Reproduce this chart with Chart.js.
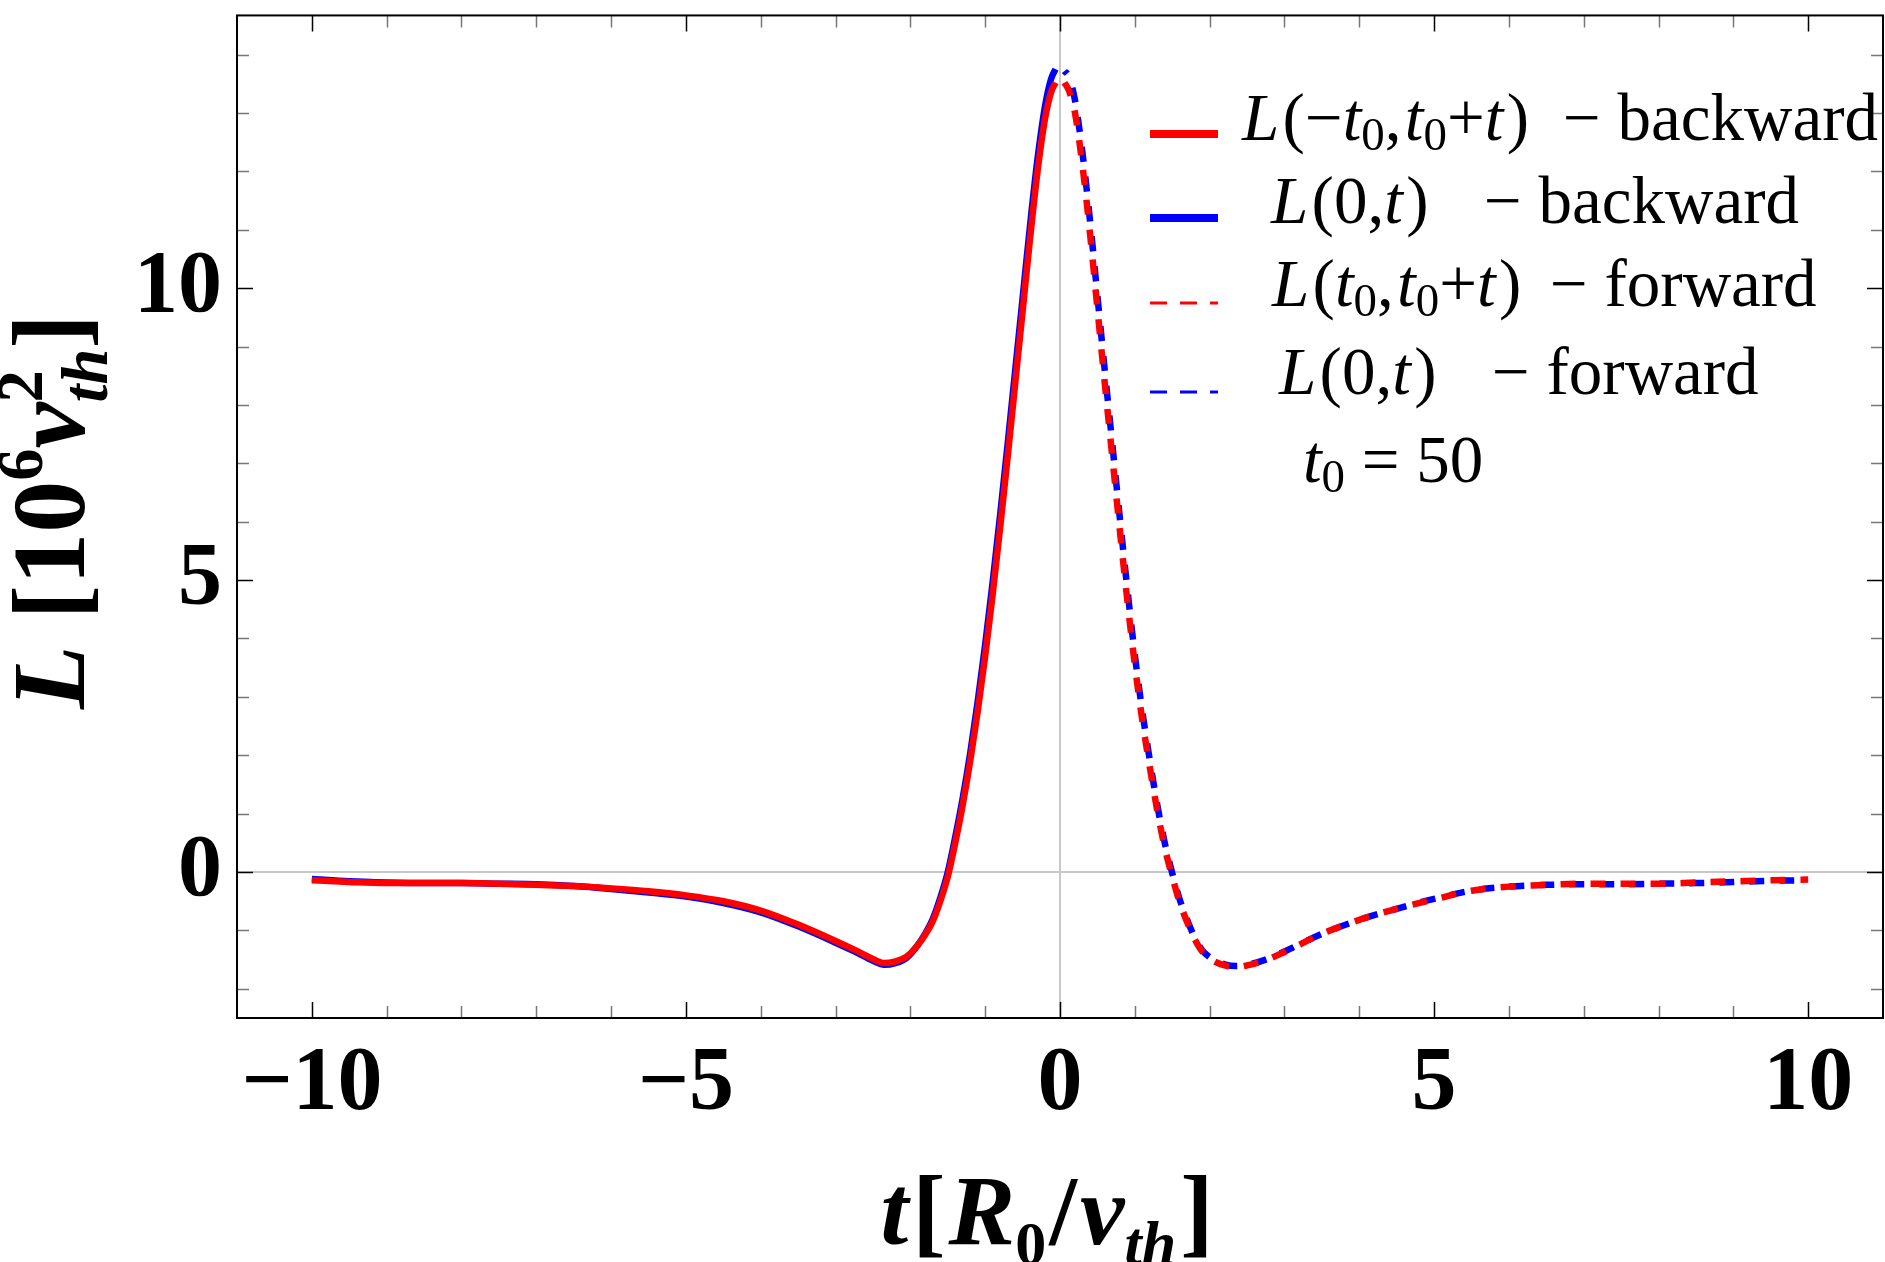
<!DOCTYPE html>
<html>
<head>
<meta charset="utf-8">
<script src="https://cdn.jsdelivr.net/npm/chart.js@4.4.0/dist/chart.umd.min.js"></script>
<style>
    html, body { margin: 0; padding: 0; background: #ffffff; }
    #contenedor { width: 1885px; height: 1262px; }
</style>
</head>
<body>
<div id="contenedor"><canvas id="grafico" width="1885" height="1262"></canvas></div>
<script>
// Datos
const tAtras = [-10, -9.5, -9, -8.5, -8, -7.5, -7, -6.5, -6, -5.5,
    -5, -4.5, -4, -3.5, -3, -2.75, -2.5, -2.35, -2.2, -2.05,
    -1.9, -1.8, -1.7, -1.6, -1.5, -1.4, -1.3, -1.2, -1.1, -1.0,
    -0.9, -0.8, -0.7, -0.6, -0.5, -0.4, -0.3, -0.2, -0.12, -0.06];
const lAtrasRojo = [-0.14, -0.17, -0.19, -0.19, -0.19, -0.20, -0.22, -0.24, -0.28, -0.33,
    -0.40, -0.50, -0.66, -0.90, -1.18, -1.33, -1.49, -1.56, -1.53, -1.45,
    -1.25, -1.07, -0.84, -0.50, -0.08, 0.50, 1.15, 1.9, 2.75, 3.7,
    4.75, 5.9, 7.1, 8.35, 9.6, 10.85, 12.0, 12.9, 13.35, 13.52];
const lAtrasAzul = [-0.12, -0.16, -0.18, -0.19, -0.19, -0.20, -0.21, -0.24, -0.29, -0.35,
    -0.42, -0.53, -0.69, -0.93, -1.21, -1.36, -1.52, -1.59, -1.56, -1.47,
    -1.25, -1.05, -0.80, -0.44, 0.0, 0.60, 1.27, 2.04, 2.92, 3.9,
    4.97, 6.12, 7.33, 8.58, 9.83, 11.08, 12.22, 13.12, 13.58, 13.75];

const tAdelante = [0.06, 0.12, 0.2, 0.3, 0.4, 0.5, 0.6, 0.7, 0.8, 0.9,
    1.0, 1.1, 1.2, 1.3, 1.4, 1.5, 1.6, 1.7, 1.8, 1.9,
    2.05, 2.2, 2.35, 2.5, 2.75, 3.0, 3.5, 4.0, 4.5, 5.0,
    5.5, 6.0, 6.5, 7.0, 7.5, 8.0, 8.5, 9.0, 9.5, 10];
const lAdelanteRojo = [13.52, 13.38, 13.0, 12.1, 10.95, 9.65, 8.35, 7.1, 5.85, 4.65,
    3.55, 2.6, 1.8, 1.05, 0.42, -0.08, -0.52, -0.86, -1.15, -1.36,
    -1.52, -1.6, -1.63, -1.6, -1.51, -1.37, -1.06, -0.82, -0.63, -0.47,
    -0.32, -0.25, -0.22, -0.20, -0.20, -0.20, -0.18, -0.16, -0.14, -0.13];
const lAdelanteAzul = [13.72, 13.62, 13.22, 12.32, 11.17, 9.87, 8.57, 7.32, 6.06, 4.85,
    3.72, 2.75, 1.92, 1.15, 0.5, -0.02, -0.47, -0.82, -1.12, -1.34,
    -1.5, -1.58, -1.61, -1.59, -1.5, -1.36, -1.06, -0.82, -0.63, -0.46,
    -0.32, -0.25, -0.22, -0.21, -0.21, -0.20, -0.19, -0.17, -0.15, -0.14];

const etiquetasSerie = ['L(−t0,t0+t) − backward', 'L(0,t) − backward', 'L(t0,t0+t) − forward', 'L(0,t) − forward'];
const ticksX = [-10, -5, 0, 5, 10];
const ticksY = [0, 5, 10];
const menoresX = [-10, -9, -8, -7, -6, -5, -4, -3, -2, -1, 0, 1, 2, 3, 4, 5, 6, 7, 8, 9, 10];
const menoresY = [-2, -1, 0, 1, 2, 3, 4, 5, 6, 7, 8, 9, 10, 11, 12, 13, 14];

const SERIF = '"Liberation Serif", "Times New Roman", serif';

const puntos = (xs, ys) => xs.map((x, i) => ({ x: x, y: ys[i] }));

// Dibuja una secuencia de trozos de texto (cursiva, subíndices, etc.)
function dibujarTrozos(ctx, trozos, x, y, base, soloMedir) {
    let x0 = x;
    trozos.forEach(tr => {
        const tam = base * (tr.escala || 1);
        ctx.font = (tr.estilo || '') + ' ' + tam + 'px ' + SERIF;
        if (!soloMedir) ctx.fillText(tr.t, x0, y + (tr.dy || 0) * base);
        if (!tr.quieto) x0 += ctx.measureText(tr.t).width + (tr.hueco || 0) * base;
    });
    return x0 - x;
}

const sub = (t, estilo) => ({ t: t, estilo: estilo || '', escala: 0.7, dy: 0.15 });

const filasLeyenda = [
    { color: '#ff0000', grueso: 8, guion: [], ly: 134, x1: 1242, x2: 1563, base: 140,
      trozos: [{ t: 'L', estilo: 'italic', hueco: 0.05 }, { t: '(−' }, { t: 't', estilo: 'italic' }, sub('0'), { t: ',', hueco: 0.05 },
               { t: 't', estilo: 'italic' }, sub('0'), { t: '+' }, { t: 't', estilo: 'italic', hueco: 0.05 }, { t: ')' }],
      resto: '− backward' },
    { color: '#0000ff', grueso: 8, guion: [], ly: 218, x1: 1271, x2: 1484, base: 223,
      trozos: [{ t: 'L', estilo: 'italic', hueco: 0.05 }, { t: '(0,' }, { t: 't', estilo: 'italic', hueco: 0.05 }, { t: ')' }],
      resto: '− backward' },
    { color: '#ff0000', grueso: 3, guion: [17, 13], ly: 303, x1: 1272, x2: 1550, base: 306,
      trozos: [{ t: 'L', estilo: 'italic', hueco: 0.05 }, { t: '(' }, { t: 't', estilo: 'italic' }, sub('0'), { t: ',', hueco: 0.05 },
               { t: 't', estilo: 'italic' }, sub('0'), { t: '+' }, { t: 't', estilo: 'italic', hueco: 0.05 }, { t: ')' }],
      resto: '− forward' },
    { color: '#0000ff', grueso: 3, guion: [17, 13], ly: 392, x1: 1279, x2: 1492, base: 394,
      trozos: [{ t: 'L', estilo: 'italic', hueco: 0.05 }, { t: '(0,' }, { t: 't', estilo: 'italic', hueco: 0.05 }, { t: ')' }],
      resto: '− forward' }
];

const marco = {
    id: 'marco',
    beforeDatasetsDraw(chart) {
        const { ctx, chartArea: a, scales: { x, y } } = chart;
        ctx.save();
        ctx.strokeStyle = '#c8c8c8';
        ctx.lineWidth = 2;
        ctx.beginPath();
        ctx.moveTo(a.left, y.getPixelForValue(0));
        ctx.lineTo(a.right, y.getPixelForValue(0));
        ctx.moveTo(x.getPixelForValue(0), a.top);
        ctx.lineTo(x.getPixelForValue(0), a.bottom);
        ctx.stroke();
        ctx.restore();
    },
    afterDatasetsDraw(chart) {
        const { ctx, chartArea: a, scales: { x, y } } = chart;
        ctx.save();
        // marcas en los cuatro lados
        ctx.lineWidth = 1.5;
        menoresX.forEach(v => {
            const mayor = v % 5 === 0;
            const L = mayor ? 16 : 12;
            const px = Math.round(x.getPixelForValue(v)) + 0.5;
            ctx.strokeStyle = mayor ? '#000000' : '#777777';
            ctx.beginPath();
            ctx.moveTo(px, a.bottom); ctx.lineTo(px, a.bottom - L);
            ctx.moveTo(px, a.top); ctx.lineTo(px, a.top + L);
            ctx.stroke();
        });
        menoresY.forEach(v => {
            const mayor = v % 5 === 0;
            const L = mayor ? 16 : 12;
            const py = Math.round(y.getPixelForValue(v)) + 0.5;
            ctx.strokeStyle = mayor ? '#000000' : '#777777';
            ctx.beginPath();
            ctx.moveTo(a.left, py); ctx.lineTo(a.left + L, py);
            ctx.moveTo(a.right, py); ctx.lineTo(a.right - L, py);
            ctx.stroke();
        });
        ctx.strokeStyle = '#000000';
        ctx.lineWidth = 2;
        ctx.strokeRect(a.left, a.top, a.right - a.left, a.bottom - a.top);
        ctx.restore();
    },
    afterDraw(chart) {
        const ctx = chart.ctx;
        ctx.save();
        ctx.fillStyle = '#000000';
        ctx.textBaseline = 'alphabetic';
        ctx.textAlign = 'left';

        // leyenda
        filasLeyenda.forEach(f => {
            ctx.strokeStyle = f.color;
            ctx.lineWidth = f.grueso;
            ctx.lineCap = 'butt';
            ctx.setLineDash(f.guion);
            ctx.beginPath();
            ctx.moveTo(1150, f.ly);
            ctx.lineTo(1218, f.ly);
            ctx.stroke();
            ctx.setLineDash([]);
            dibujarTrozos(ctx, f.trozos, f.x1, f.base, 67);
            dibujarTrozos(ctx, [{ t: f.resto }], f.x2, f.base, 67);
        });
        dibujarTrozos(ctx, [{ t: 't', estilo: 'italic' }, sub('0'), { t: ' = 50' }], 1303, 482, 67);

        // título eje x
        const trozosX = [{ t: 't', estilo: 'italic bold', hueco: 0.04 }, { t: '[', estilo: 'bold', hueco: 0.03 },
            { t: 'R', estilo: 'italic bold' }, { t: '0', estilo: 'bold', escala: 0.62, dy: 0.2, hueco: 0.03 },
            { t: '/', estilo: 'bold', hueco: 0.03 }, { t: 'v', estilo: 'italic bold' },
            { t: 'th', estilo: 'italic bold', escala: 0.62, dy: 0.2, hueco: 0.04 }, { t: ']', estilo: 'bold' }];
        const anchoX = dibujarTrozos(ctx, trozosX, 0, 0, 100, true);
        dibujarTrozos(ctx, trozosX, 1047 - anchoX / 2, 1244, 100);

        // título eje y
        const trozosY = [{ t: 'L', estilo: 'italic bold' }, { t: ' [10', estilo: 'bold' },
            { t: '6', estilo: 'bold', escala: 0.62, dy: -0.4 }, { t: 'v', estilo: 'italic bold' },
            { t: '2', estilo: 'bold', escala: 0.62, dy: -0.4, quieto: true },
            { t: 'th', estilo: 'italic bold', escala: 0.62, dy: 0.22 }, { t: ']', estilo: 'bold' }];
        ctx.translate(84, 709);
        ctx.rotate(-Math.PI / 2);
        dibujarTrozos(ctx, trozosY, 0, 0, 104);
        ctx.restore();
    }
};

const ctx = document.getElementById('grafico').getContext('2d');
new Chart(ctx, {
    type: 'scatter',
    data: {
        datasets: [
            { label: etiquetasSerie[0], data: puntos(tAtras, lAtrasRojo), borderColor: '#ff0000', borderWidth: 6.5, order: 0 },
            { label: etiquetasSerie[1], data: puntos(tAtras, lAtrasAzul), borderColor: '#0000ff', borderWidth: 6.5, order: 1 },
            { label: etiquetasSerie[2], data: puntos(tAdelante, lAdelanteRojo), borderColor: '#ff0000', borderWidth: 6.5, borderDash: [15, 15], order: 0 },
            { label: etiquetasSerie[3], data: puntos(tAdelante, lAdelanteAzul), borderColor: '#0000ff', borderWidth: 6.5, borderDash: [15, 15], borderDashOffset: 11, order: 1 }
        ].map(d => Object.assign(d, {
            showLine: true, pointRadius: 0, pointHoverRadius: 0, fill: false,
            cubicInterpolationMode: 'monotone', borderCapStyle: 'butt', borderJoinStyle: 'round'
        }))
    },
    options: {
        responsive: false,
        devicePixelRatio: 1,
        animation: false,
        layout: { padding: { top: 1, right: 2, left: 0, bottom: 0 } },
        plugins: { legend: { display: false }, tooltip: { enabled: false } },
        scales: {
            x: {
                type: 'linear', min: -11, max: 11,
                grid: { display: false, drawTicks: false },
                border: { display: false },
                afterBuildTicks: s => { s.ticks = ticksX.map(v => ({ value: v })); },
                afterFit: s => { s.height = 244; },
                ticks: {
                    autoSkip: false, maxRotation: 0, padding: 14, color: '#000000',
                    font: { family: SERIF, size: 90, weight: 'bold' },
                    callback: v => (v < 0 ? '−' + Math.abs(v) : String(v))
                }
            },
            y: {
                type: 'linear', min: -2.5, max: 14.67,
                grid: { display: false, drawTicks: false },
                border: { display: false },
                afterBuildTicks: s => { s.ticks = ticksY.map(v => ({ value: v })); },
                afterFit: s => { s.width = 237; },
                ticks: {
                    autoSkip: false, padding: 15, color: '#000000',
                    font: { family: SERIF, size: 88, weight: 'bold', lineHeight: 0.01 },
                    callback: v => String(v)
                }
            }
        }
    },
    plugins: [marco]
});
</script>
</body>
</html>
